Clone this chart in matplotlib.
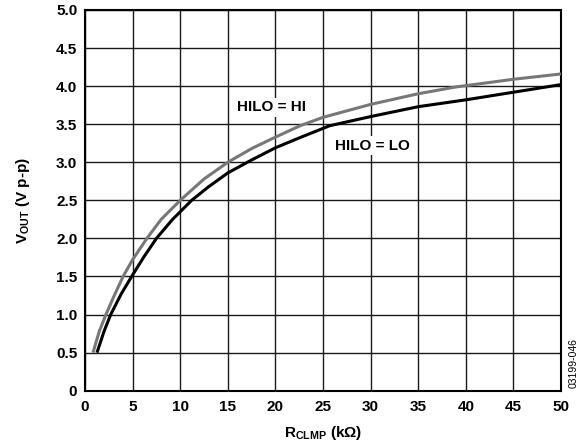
import matplotlib
matplotlib.use("Agg")
import matplotlib.pyplot as plt
import numpy as np

plt.rcParams['font.family'] = ['Liberation Sans', 'DejaVu Sans']
plt.rcParams['mathtext.fontset'] = 'custom'
plt.rcParams['mathtext.rm'] = 'Liberation Sans:bold'
plt.rcParams['mathtext.bf'] = 'Liberation Sans:bold'
plt.rcParams['mathtext.it'] = 'Liberation Sans:bold'

# Data
r_hi = [0.84, 1.5, 2.2, 3.0, 4.0, 5.0, 6.5, 8.0, 10.0, 12.5, 15.0, 17.5, 20.0, 22.6, 25.0, 30.0, 35.0, 39.0, 45.0, 50.0]
v_hi = [0.50, 0.78, 1.00, 1.23, 1.50, 1.72, 2.00, 2.25, 2.50, 2.78, 3.00, 3.18, 3.33, 3.48, 3.59, 3.76, 3.90, 3.99, 4.09, 4.16]

r_lo = [1.26, 2.0, 2.7, 3.8, 4.9, 6.2, 7.5, 9.2, 11.2, 13.0, 15.0, 17.5, 20.0, 22.5, 25.7, 30.0, 35.0, 40.0, 45.0, 50.0]
v_lo = [0.50, 0.78, 1.00, 1.27, 1.50, 1.76, 2.00, 2.25, 2.50, 2.68, 2.86, 3.03, 3.19, 3.32, 3.48, 3.60, 3.73, 3.82, 3.92, 4.02]

x_ticks = [0, 5, 10, 15, 20, 25, 30, 35, 40, 45, 50]
y_ticks = [0, 0.5, 1.0, 1.5, 2.0, 2.5, 3.0, 3.5, 4.0, 4.5, 5.0]
y_ticklabels = ['0', '0.5', '1.0', '1.5', '2.0', '2.5', '3.0', '3.5', '4.0', '4.5', '5.0']

fig = plt.figure(figsize=(5.87, 4.46), dpi=100)
ax = fig.add_axes([0.1448, 0.124, 0.8109, 0.8536])

ax.plot(r_hi, v_hi, color='#777777', lw=2.2, solid_capstyle='butt', zorder=3)
ax.plot(r_lo, v_lo, color='black', lw=2.2, solid_capstyle='butt', zorder=4)

ax.set_xlim(0, 50)
ax.set_ylim(0, 5)
ax.set_xticks(x_ticks)
ax.set_yticks(y_ticks)
ax.set_yticklabels(y_ticklabels)
ax.grid(True, color='#1a1a1a', lw=1.0, zorder=1)
ax.set_axisbelow(True)
ax.tick_params(length=0, labelsize=11, pad=5.5)
ax.tick_params(axis='x', pad=7)
for lab in ax.get_xticklabels() + ax.get_yticklabels():
    lab.set_fontweight('bold')
for s in ax.spines.values():
    s.set_linewidth(1.5)

ax.text(16.0, 3.72, 'HILO = HI', fontsize=11, fontweight='bold', ha='left', va='center',
        bbox=dict(facecolor='white', edgecolor='none', pad=1.5), zorder=5)
ax.text(26.3, 3.22, 'HILO = LO', fontsize=11, fontweight='bold', ha='left', va='center',
        bbox=dict(facecolor='white', edgecolor='none', pad=1.5), zorder=5)

ax.set_xlabel(r'R$_{\mathbf{CLMP}}$ (k$\mathbf{\Omega}$)', fontsize=11, fontweight='bold', labelpad=7)
ax.set_ylabel(r'V$_{\mathbf{OUT}}$ (V p-p)', fontsize=11, fontweight='bold', labelpad=17)

fig.text(0.977, 0.186, '03199-046', rotation=90, fontsize=7.5, ha='center', va='center')

fig.savefig('out.png', dpi=100)
